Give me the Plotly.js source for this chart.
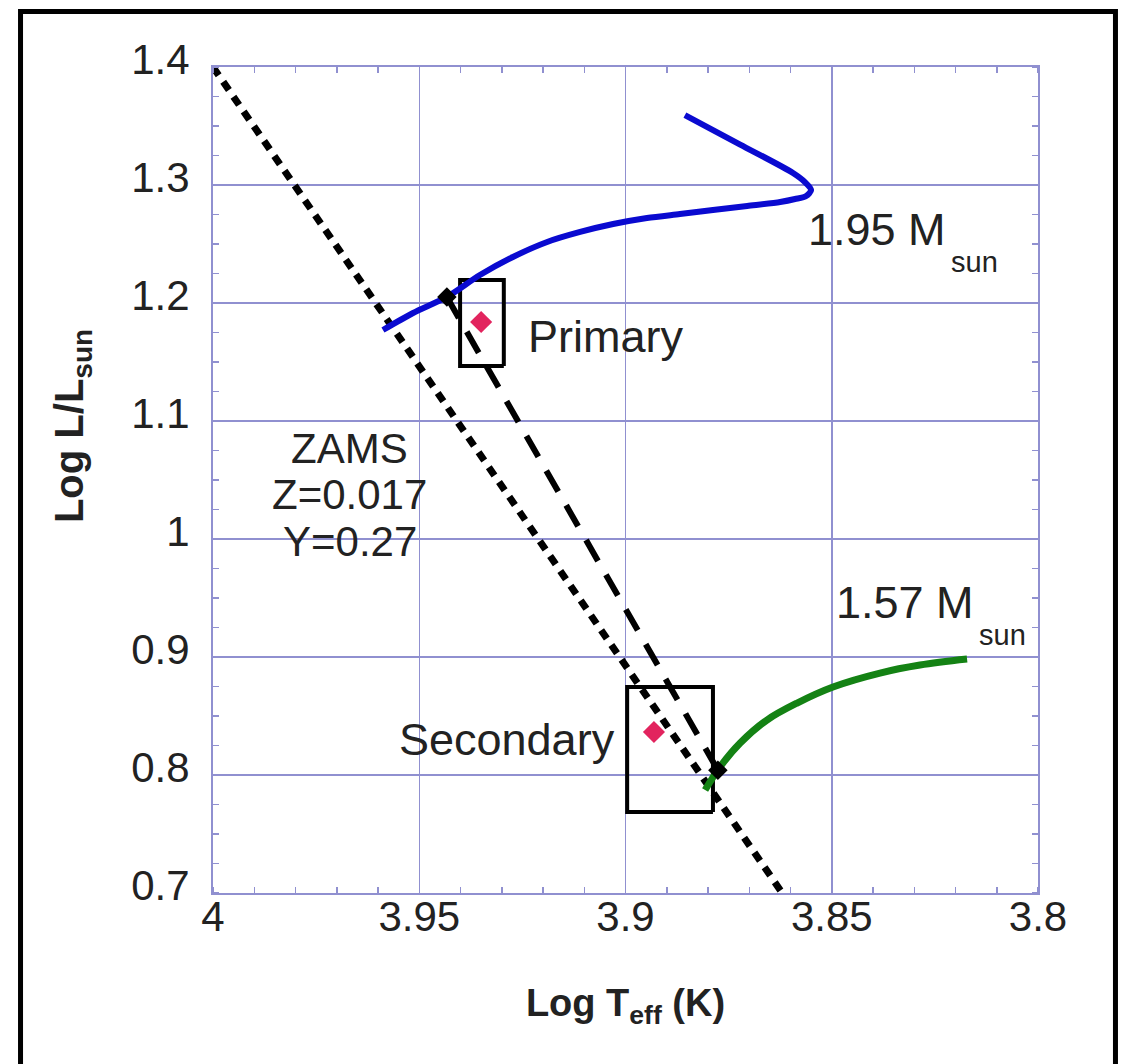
<!DOCTYPE html>
<html>
<head>
<meta charset="utf-8">
<script src="https://cdn.plot.ly/plotly-3.0.1.min.js"></script>
<style>
  html, body { margin: 0; padding: 0; background: #fff; }
  #chart { width: 1121px; height: 1064px; }
</style>
</head>
<body>
<div id="chart"></div>
<script>
// ---- data (log Teff, log L/Lsun) ----
const xTickVals = [4, 3.95, 3.9, 3.85, 3.8];
const xTickText = ["4", "3.95", "3.9", "3.85", "3.8"];
const yTickVals = [0.7, 0.8, 0.9, 1.0, 1.1, 1.2, 1.3, 1.4];
const yTickText = ["0.7", "0.8", "0.9", "1", "1.1", "1.2", "1.3", "1.4"];

// ZAMS (Z=0.017, Y=0.27)
const zamsT = [4.0, 3.862];
const zamsL = [1.4, 0.7];

// line joining the two model points
const isoT = [3.9433, 3.8776];
const isoL = [1.205, 0.804];

// 1.95 Msun track
const track195T = [3.9588, 3.9515, 3.9433, 3.9353, 3.9273, 3.919, 3.911, 3.903, 3.8948, 3.8868, 3.8788, 3.8705, 3.8625, 3.8589, 3.8562, 3.8550, 3.8565, 3.8594, 3.8722, 3.8856];
const track195L = [1.1771, 1.1915, 1.2051, 1.2237, 1.239, 1.2517, 1.2602, 1.2669, 1.272, 1.2754, 1.2788, 1.2822, 1.2856, 1.2881, 1.2907, 1.2958, 1.3025, 1.3102, 1.3343, 1.3593];

// 1.57 Msun track
const track157T = [3.8807, 3.8771, 3.8722, 3.8657, 3.8584, 3.8497, 3.8383, 3.8286, 3.8172];
const track157L = [0.7873, 0.8068, 0.8271, 0.8466, 0.861, 0.8746, 0.8864, 0.8932, 0.8983];

// observed components: Primary, Secondary
const starNames = ["Primary", "Secondary"];
const obsT = [3.935, 3.8931];
const obsL = [1.1839, 0.8364];
const boxTmin = [3.9295, 3.8788];
const boxTmax = [3.9401, 3.8996];
const boxLmin = [1.1466, 0.7686];
const boxLmax = [1.2195, 0.8746];

// ---- build traces ----
const gridCol = '#9090d0';
const traces = [];

for (let i = 0; i < starNames.length; i++) {
  traces.push({
    type: 'scatter', mode: 'lines', name: starNames[i] + ' box',
    x: [boxTmin[i], boxTmax[i], boxTmax[i], boxTmin[i], boxTmin[i]],
    y: [boxLmin[i], boxLmin[i], boxLmax[i], boxLmax[i], boxLmin[i]],
    line: { color: '#000', width: 4 }, hoverinfo: 'skip'
  });
}

traces.push({
  type: 'scatter', mode: 'lines', name: 'ZAMS', x: zamsT, y: zamsL,
  line: { color: '#000', width: 7, dash: '10px,8px' }
});
traces.push({
  type: 'scatter', mode: 'lines', name: 'isochrone', x: isoT, y: isoL,
  line: { color: '#000', width: 6, dash: '24px,16px' }
});
traces.push({
  type: 'scatter', mode: 'lines', name: '1.95 Msun', x: track195T, y: track195L,
  line: { color: '#0a0ad0', width: 6, shape: 'spline', smoothing: 0.8 }
});
traces.push({
  type: 'scatter', mode: 'lines', name: '1.57 Msun', x: track157T, y: track157L,
  line: { color: '#148214', width: 7, shape: 'spline', smoothing: 1 }
});
traces.push({
  type: 'scatter', mode: 'markers', name: 'model points', x: isoT, y: isoL,
  marker: { symbol: 'diamond', size: 15, color: '#000' }
});
traces.push({
  type: 'scatter', mode: 'markers', name: 'observed', x: obsT, y: obsL,
  marker: { symbol: 'diamond', size: 17, color: '#e2245e' }
});

const fam = 'Liberation Sans, Arial, sans-serif';
const txtFont = { family: fam, size: 42, color: '#222' };
const bigFont = { family: fam, size: 45, color: '#222' };
const subFont = { family: fam, size: 29, color: '#222' };

const annotations = [
  { x: 3.9239, y: 1.172, text: 'Primary', xanchor: 'left', yanchor: 'middle', font: bigFont },
  { x: 3.9024, y: 0.8297, text: 'Secondary', xanchor: 'right', yanchor: 'middle', font: bigFont },
  { x: 3.8561, y: 1.2627, text: '1.95 M', xanchor: 'left', yanchor: 'middle', font: bigFont },
  { x: 3.8213, y: 1.2351, text: 'sun', xanchor: 'left', yanchor: 'middle', font: subFont },
  { x: 3.8493, y: 0.9458, text: '1.57 M', xanchor: 'left', yanchor: 'middle', font: bigFont },
  { x: 3.8145, y: 0.919, text: 'sun', xanchor: 'left', yanchor: 'middle', font: subFont },
  { x: 3.9668, y: 1.0771, text: 'ZAMS', xanchor: 'center', yanchor: 'middle', font: txtFont },
  { x: 3.9668, y: 1.0373, text: 'Z=0.017', xanchor: 'center', yanchor: 'middle', font: txtFont },
  { x: 3.9668, y: 0.9975, text: 'Y=0.27', xanchor: 'center', yanchor: 'middle', font: txtFont },
  { xref: 'paper', yref: 'paper', x: -0.17, y: 0.565, textangle: -90,
    text: '<b>Log L/L<sub>sun</sub></b>', xanchor: 'center', yanchor: 'middle',
    font: { family: fam, size: 40, color: '#222' } }
];
annotations.forEach(a => { a.showarrow = false; a.borderpad = 0; });

const axisCommon = {
  showgrid: true, gridcolor: gridCol, gridwidth: 1.5,
  showline: true, linecolor: gridCol, linewidth: 2, mirror: 'ticks',
  ticks: '', zeroline: false,
  tickfont: { family: fam, size: 42, color: '#222' },
  tickmode: 'array'
};

const layout = {
  width: 1121, height: 1064,
  margin: { l: 213, r: 83, t: 67, b: 171 },
  paper_bgcolor: '#fff', plot_bgcolor: '#fff',
  showlegend: false,
  xaxis: Object.assign({}, axisCommon, {
    range: [4, 3.8], tickvals: xTickVals, ticktext: xTickText,
    ticklabelstandoff: -14,
    minor: { dtick: 0.01, tick0: 0, ticks: 'inside', ticklen: 6, tickcolor: gridCol, tickwidth: 1.5, showgrid: false },
    title: { text: '<b>Log T<sub>eff</sub> (K)</b>', standoff: 50,
      font: { family: fam, size: 38, color: '#222' } }
  }),
  yaxis: Object.assign({}, axisCommon, {
    range: [0.7, 1.4], tickvals: yTickVals, ticktext: yTickText,
    ticklabelshift: -8, ticklabelstandoff: 13,
    minor: { dtick: 0.025, tick0: 0, ticks: 'inside', ticklen: 6, tickcolor: gridCol, tickwidth: 1.5, showgrid: false }
  }),
  annotations: annotations,
  shapes: [
    { type: 'rect', xref: 'paper', yref: 'paper',
      x0: -0.2333, x1: 1.0939, y0: -0.25, y1: 1.0672,
      line: { color: '#000', width: 5 }, fillcolor: 'rgba(0,0,0,0)', layer: 'above' }
  ]
};

Plotly.newPlot('chart', traces, layout, { staticPlot: true, displayModeBar: false });
</script>
</body>
</html>
